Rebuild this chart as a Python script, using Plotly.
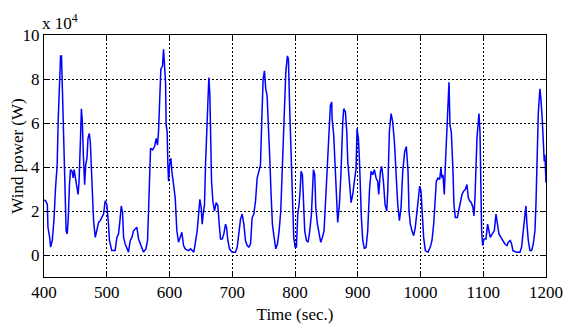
import plotly.graph_objects as go

# Time (sec.)
time_s = [
    400, 402.6, 405.3, 406.3, 409, 410.5, 413.2, 415.8, 418.4, 421, 422.7,
    424.8, 426.4, 427.9, 429, 430, 431.6, 433.2, 435.3, 436.9, 438.5,
    440.6, 442.2, 444.8, 446.4, 448, 450, 452.7, 454.3, 455.9, 456.9,
    458.5, 459.6, 461.1, 462.7, 464.8, 466.4, 468.5, 470.1, 472.2, 473.8,
    475.4, 477.5, 479, 481.7, 484.3, 487, 489.6, 492.2, 494.9, 497.5,
    500.1, 502.8, 504.3, 508, 513.3,
    516.2, 518.8, 521.5, 523.1, 525.2, 526.8, 529.4, 532.1, 534.7, 537.4,
    540.1, 542.7, 545.4, 548, 550.7, 553.3, 556, 558.6, 562.4, 565,
    566.6, 568.2, 569.8, 573, 576.2, 578.8, 580.9, 582.5, 583.6, 585.2,
    586.2, 588.9, 590.5, 592.1, 593.7, 594.7, 596.3, 597.4, 598.5, 600.1,
    602.2, 603.8, 606.4, 609.1, 611.7, 614.4, 617, 619.7, 622.4, 625,
    630.3,
    633.5, 638.8, 641.5, 644.1, 646.8, 648.4, 650.5, 652.1, 653.7, 655.8,
    657.4, 659, 660.6, 662.2, 662.7, 664.3, 665.9, 667, 669.1, 671.7,
    674.4, 677.1, 679.2, 681.3, 684, 686.6, 689.3, 690.9, 693, 695.6,
    699.9, 705.2, 707.9, 710.5, 713.2, 715.8, 718.5, 721.1, 723.8, 726.4,
    729.1, 731.7, 734.4, 737.1, 739.7, 742.4, 745,
    747, 749.2, 751.3, 753.4, 755.5, 757.7, 759.8, 761.9, 764, 766.7,
    769.4, 772, 774.7, 777.3, 780, 782.6, 785.3, 787.9, 789.5, 791.7,
    793.8, 795.9, 798, 800.2, 802.3, 804.4, 806.5, 808.1, 809.7, 811.8,
    813.4, 815.5, 818.2, 820.9, 823.5, 826.2, 827.8, 829.4, 831.5, 833.1,
    835.7, 838.4, 841, 843.7, 846.3, 849, 851.7, 854.3, 856.4, 858.6,
    859.1, 861.7, 863.9, 866, 868.1, 870.8, 873.4, 876.1, 877.7, 880.3,
    882.5, 884.1, 886.7, 889.4, 892, 894.7, 897.3, 898.9, 901, 902.6,
    904.2, 905.8, 908, 910.6, 913.3, 915.9, 918.6, 921.2, 923.9, 926.5,
    929.2, 931.8, 933.4, 936.1, 938.2, 940.9, 943.5, 946.2, 947.8, 950.4,
    953.1, 955.7, 958.4, 961, 963.7, 966.4, 969, 971.7,
    974.8, 977.4, 980.1, 981.7, 983.8, 986.4, 989.1, 991.7, 994.4, 997.1,
    998.7, 1000.8, 1002.9, 1005, 1007.7, 1011.9, 1015.6, 1018.3, 1021, 1023.1,
    1025.2, 1027.9, 1030.5, 1032.6, 1034.2, 1035.8, 1037.9, 1040.1, 1042.2, 1043.8,
    1045.4, 1047, 1049.1, 1051.8, 1053.3, 1055.5, 1058.7, 1060.8, 1063.4, 1066.1,
    1068.7, 1071.4, 1074, 1076.2, 1078.3, 1081, 1083.6, 1085.2, 1086.8, 1088.9,
    1090, 1092.1, 1093.2, 1094.8, 1096.4, 1097.4, 1099, 1101.1, 1104.3, 1107,
    1109.1, 1111.2, 1114.4, 1117.6, 1120.3, 1122.4, 1125, 1128.2, 1131.4, 1134.6,
    1137.8, 1139.9, 1143.1, 1145.2, 1147.3, 1153.2, 1158.5, 1161.1, 1163.8, 1166.5,
    1168, 1169.6, 1171.8, 1174.4, 1177.1, 1179.7, 1182.4, 1184, 1186.1, 1187.7,
    1190.3, 1191.9, 1194.1, 1195.7, 1197.2, 1198.3, 1200,
]

# Wind power in units of 10^4 W
power_e4 = [
    2.5, 2.46, 2.3, 1.26, 0.8, 0.36, 0.66, 1.56, 3.06, 4.1, 6.2,
    7.7, 9.05, 9.05, 7.85, 5.75, 4.1, 2.3, 1.1, 0.96, 1.56,
    3.2, 3.88, 3.8, 3.5, 3.88, 3.5, 2.9, 2.75, 3.35, 4.7,
    5.6, 6.65, 6.05, 4.55, 3.2, 4.1, 4.4, 5.3, 5.53, 5.15,
    4.1, 3.06, 1.56, 0.8, 1.1, 1.48, 1.56, 1.7, 1.86, 2.46,
    2.3, 1.4, 0.66, 0.2, 0.2,
    0.8, 0.96, 1.7, 2.23, 1.93, 0.8, 0.5, 0.28, 0.13, 0.66,
    0.8, 1.1, 1.18, 1.26, 0.73, 0.5, 0.28, 0.13, 0.28, 0.66,
    2.0, 3.65, 4.85, 4.78, 4.93, 5.3, 5.0, 5.6, 6.5, 7.4,
    8.45, 8.6, 9.35, 8.6, 7.85, 5.9, 5.6, 4.1, 3.35, 4.1,
    4.4, 3.8, 3.2, 2.6, 1.1, 0.58, 0.8, 1.03, 0.43, 0.28,
    0.2,
    0.28, 0.13, 0.66, 1.1, 2.0, 2.53, 2.16, 1.4, 1.86, 2.3,
    4.1, 5.45, 7.1, 8.0, 8.07, 7.3, 5.6, 3.35, 2.46, 2.0,
    2.38, 2.23, 1.4, 0.73, 0.73, 0.96, 1.4, 1.26, 0.66, 0.28,
    0.13, 0.13, 0.36, 1.1, 1.63, 1.86, 1.4, 0.66, 0.43, 0.36,
    0.5, 1.7, 1.86, 2.46, 3.5, 3.8, 4.1,
    6.05, 8.0, 8.37, 7.55, 7.25, 6.05, 4.4, 2.75, 1.4, 0.8,
    0.28, 0.5, 1.1, 2.0, 4.4, 6.8, 8.3, 9.05, 8.9, 6.5,
    4.4, 2.3, 0.8, 0.36, 0.36, 1.86, 2.3, 2.9, 3.8, 3.65,
    2.3, 1.1, 0.66, 0.58, 1.1, 1.86, 2.9, 3.88, 3.65, 2.16,
    1.4, 0.96, 0.58, 0.8, 1.1, 2.6, 4.1, 5.9, 6.8, 6.95,
    6.2, 5.45, 4.1, 2.3, 1.48, 2.3, 3.8, 6.05, 6.65, 6.5,
    5.6, 4.25, 3.2, 2.38, 2.75, 3.5, 3.95, 5.75, 5.3, 4.4,
    2.9, 1.7, 0.66, 0.28, 0.36, 1.1, 2.9, 3.8, 3.65, 3.88,
    3.5, 3.35, 2.75, 3.8, 4.03, 3.35, 2.3, 2.0, 2.9, 5.6,
    6.43, 6.05, 5.15, 3.35, 2.3, 1.56, 2.16, 3.8,
    4.7, 4.93, 3.8, 2.0, 1.4, 1.1, 0.88, 1.26, 2.0, 2.6,
    3.13, 2.9, 2.0, 0.8, 0.2, 0.13, 0.36, 0.66, 1.4, 2.3,
    3.35, 3.5, 3.43, 3.95, 3.5, 3.65, 2.75, 4.4, 5.9, 7.25,
    7.85, 5.9, 5.6, 3.8, 2.3, 1.7, 1.7, 2.0, 2.46, 2.75,
    2.9, 2.98, 3.2, 2.6, 2.46, 2.38, 2.16, 1.78, 2.6, 4.85,
    5.3, 6.05, 6.43, 5.6, 2.6, 1.1, 0.43, 0.73, 0.73, 1.4,
    1.1, 0.8, 0.96, 1.1, 1.86, 1.4, 0.96, 0.8, 0.66, 0.5,
    0.43, 0.58, 0.66, 0.5, 0.2, 0.13, 0.13, 0.36, 1.1, 2.0,
    2.23, 1.4, 0.66, 0.2, 0.2, 0.5, 1.1, 2.3, 4.1, 6.43,
    7.55, 7.1, 6.13, 4.85, 4.25, 4.55, 3.28,
]
n = min(len(time_s), len(power_e4))
time_s = time_s[:n]
power_e4 = power_e4[:n]

x_ticks = [400, 500, 600, 700, 800, 900, 1000, 1100, 1200]
y_ticks = [0, 2, 4, 6, 8, 10]

FONT = "Liberation Serif"
FS = 17

fig = go.Figure()
fig.add_trace(go.Scatter(
    x=time_s, y=power_e4, mode="lines",
    line=dict(color="#0000ff", width=1.5),
    showlegend=False, hoverinfo="skip",
))

axis_common = dict(
    showline=True, linecolor="black", linewidth=1, mirror="ticks",
    ticks="inside", ticklen=4, tickcolor="black",
    showgrid=True, gridcolor="black", griddash="2px,2px", gridwidth=1,
    zeroline=False, automargin=False,
    tickfont=dict(family=FONT, size=FS, color="black"),
)

fig.update_layout(
    width=572, height=332,
    margin=dict(l=36, r=34, t=27, b=63),
    paper_bgcolor="white", plot_bgcolor="white",
    font=dict(family=FONT, size=FS, color="black"),
    xaxis=dict(
        range=[400, 1200], tickvals=x_ticks, ticktext=[str(v) for v in x_ticks],
        title=dict(text="Time (sec.)", font=dict(family=FONT, size=FS), standoff=6),
        **axis_common,
    ),
    yaxis=dict(
        range=[-1, 10], tickvals=y_ticks, ticktext=[str(v) for v in y_ticks],
        title=dict(text="Wind power (W)", font=dict(family=FONT, size=FS), standoff=12),
        **axis_common,
    ),
    annotations=[dict(
        text="x 10<sup>4</sup>", xref="paper", yref="paper", x=0.0, y=1.0,
        xanchor="left", yanchor="bottom", showarrow=False, xshift=-4,
        font=dict(family=FONT, size=FS, color="black"),
    )],
)

fig.write_html("out.html")
